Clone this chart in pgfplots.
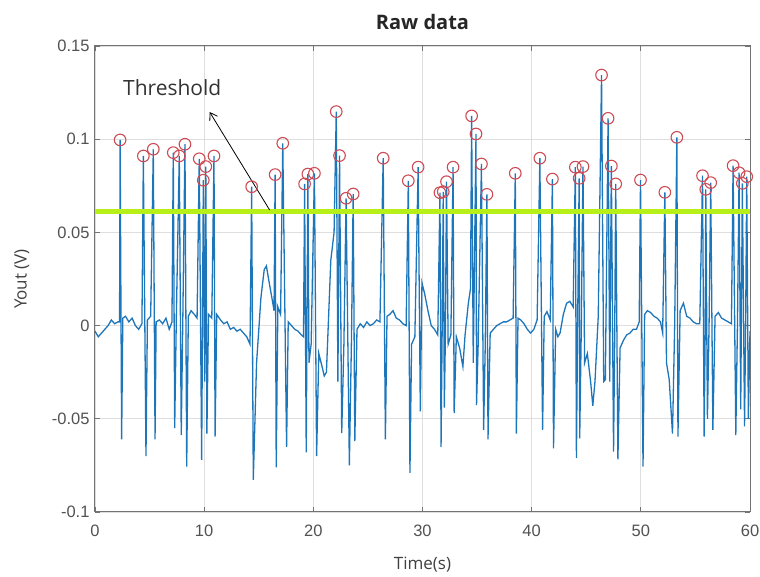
\documentclass[border=0pt]{standalone}
\usepackage{pgfplots}
\pgfplotsset{compat=1.18}
\usetikzlibrary{arrows.meta}
\usepackage{fontspec}
\setmainfont{Open Sans}
\newfontfamily\tickfont{Liberation Sans}
\definecolor{sig}{RGB}{30,118,186}
\definecolor{thr}{RGB}{182,240,24}
\definecolor{pk}{RGB}{205,75,85}
\definecolor{pkfill}{RGB}{250,228,228}
\definecolor{gridc}{RGB}{222,222,222}
\begin{document}
\begin{tikzpicture}
\path[use as bounding box] (-95pt,-65pt) rectangle (665pt,512pt);
\begin{axis}[
  at={(0,0)}, anchor=south west,
  scale only axis, width=655pt, height=466pt,
  xmin=0, xmax=60, ymin=-0.1, ymax=0.15,
  xtick={0,10,...,60},
  ytick={-0.1,-0.05,0,0.05,0.1,0.15},
  yticklabels={-0.1,-0.05,0,0.05,0.1,0.15},
  scaled y ticks=false,
  tick align=inside, major tick length=5pt,
  xtick pos=both, ytick pos=both,
  grid=major, major grid style={gridc, line width=0.8pt},
  axis line style={black!55, line width=1pt},
  tick style={black!55, line width=0.8pt},
  /pgf/number format/assume math mode=true,
  ticklabel style={font=\tickfont\fontsize{16.5}{16.5}\selectfont, text=black!68},
  xticklabel style={yshift=-9pt},
  yticklabel style={xshift=-2pt},
  title={Raw data},
  title style={font=\bfseries\fontsize{20}{20}\selectfont, text=black!85, at={(axis description cs:0.5,1)}, anchor=center, yshift=18pt},
  xlabel={Time(s)},
  xlabel style={font=\fontsize{17}{17}\selectfont, text=black!75, at={(axis description cs:0.5,0)}, anchor=center, yshift=-53pt},
  ylabel={Yout (V)},
  ylabel style={font=\fontsize{17}{17}\selectfont, text=black!75, at={(axis description cs:0,0.5)}, anchor=center, yshift=73pt},
  clip=true,
]
\addplot[sig, line width=1.3pt] coordinates {
(0,-0.003) (0.3,-0.006) (0.6,-0.004) (0.9,-0.002) (1.2,0.000) (1.5,0.003) (1.8,0.001) (2.1,0.002) (2.25,0.002)
(2.3,0.0996) (2.44,-0.061) (2.55,0.004) (2.8,0.005) (3.1,0.002) (3.4,0.004) (3.7,0.000) (4.0,-0.002) (4.3,0.001)
(4.43,0.091) (4.67,-0.070) (4.8,0.003) (5.1,0.005) (5.34,0.0946) (5.5,-0.061) (5.6,0.002) (5.9,0.003) (6.2,0.001)
(6.5,0.004) (6.8,-0.002) (7.05,0.002) (7.17,0.0928) (7.3,-0.055) (7.45,0.004) (7.72,0.091) (7.9,-0.0587) (8.05,0.006)
(8.24,0.0973) (8.4,-0.0757) (8.55,0.005) (8.8,0.008) (9.1,0.006) (9.35,0.004) (9.55,0.0895) (9.77,-0.072) (9.85,0.003)
(9.92,0.078) (10.05,-0.03) (10.15,0.0853) (10.25,-0.058) (10.4,0.006) (10.7,0.004) (10.9,0.091) (11.0,-0.0596)
(11.15,0.006) (11.5,0.003) (11.8,0.001) (12.1,0.002) (12.4,-0.002) (12.7,-0.001) (13.0,-0.003) (13.3,-0.002)
(13.6,-0.004) (13.9,-0.006) (14.2,-0.01) (14.35,0.0745) (14.5,-0.0828) (14.8,-0.02) (15.2,0.015) (15.5,0.030)
(15.7,0.032) (15.9,0.025) (16.2,0.015) (16.4,0.008) (16.5,0.081) (16.6,-0.076) (16.75,0.010) (17.0,0.006)
(17.2,0.0978) (17.55,-0.065) (17.7,0.002) (18.0,0.000) (18.3,-0.002) (18.6,-0.003) (18.9,-0.005) (19.1,-0.006)
(19.2,0.076) (19.35,-0.068) (19.5,0.0813) (19.6,-0.02) (19.8,-0.010) (20.1,0.0817) (20.3,-0.070) (20.5,-0.015)
(20.8,-0.022) (21.0,-0.027) (21.2,-0.025) (21.6,0.035) (21.9,0.05) (22.1,0.1148) (22.25,-0.03) (22.4,0.0912)
(22.6,-0.0577) (22.8,-0.01) (23.0,0.0683) (23.3,-0.075) (23.5,-0.005) (23.65,0.0706) (23.8,-0.062) (24.0,-0.002)
(24.3,0.001) (24.6,-0.001) (24.9,0.002) (25.2,0.000) (25.5,0.001) (25.8,0.003) (26.1,0.002) (26.4,0.0898)
(26.6,-0.061) (26.75,0.005) (27.0,0.006) (27.3,0.008) (27.6,0.004) (27.9,0.003) (28.2,0.001) (28.5,0.000)
(28.7,0.0777) (28.85,-0.079) (29.0,-0.010) (29.3,-0.006) (29.6,0.085) (29.8,-0.046) (29.95,0.023) (30.2,0.017)
(30.5,0.008) (30.8,0.000) (31.1,-0.002) (31.4,-0.005) (31.6,0.0713) (31.7,-0.065) (31.8,-0.003) (31.9,0.0718)
(32.0,-0.044) (32.1,-0.004) (32.2,0.0772) (32.35,-0.01) (32.6,-0.005) (32.8,0.085) (32.9,-0.047) (33.1,-0.006)
(33.4,-0.012) (33.7,-0.022) (33.9,-0.005) (34.2,0.012) (34.4,0.020) (34.5,0.1125) (34.65,-0.02) (34.9,0.1028)
(34.95,-0.0426) (35.1,-0.01) (35.4,0.0867) (35.6,-0.056) (35.75,-0.01) (35.9,0.0704) (36.0,-0.061) (36.2,-0.004)
(36.5,-0.002) (36.8,0.000) (37.1,0.001) (37.4,0.002) (37.7,0.002) (38.0,0.003) (38.3,0.004) (38.5,0.0817)
(38.6,-0.058) (38.75,0.004) (39.0,0.003) (39.3,0.001) (39.6,-0.002) (39.9,-0.004) (40.2,-0.002) (40.5,0.003)
(40.75,0.0898) (41.0,-0.056) (41.15,0.005) (41.4,0.0075) (41.7,0.003) (41.9,0.0786) (42.0,-0.0658) (42.2,-0.002)
(42.4,-0.006) (42.6,-0.004) (42.9,0.006) (43.2,0.012) (43.5,0.013) (43.8,0.010) (44.0,0.085) (44.1,-0.071)
(44.2,-0.005) (44.35,0.079) (44.4,-0.0605) (44.55,0.0) (44.7,0.0853) (44.85,-0.02) (45.1,-0.015) (45.4,-0.03)
(45.6,-0.043) (45.8,-0.03) (46.1,0.005) (46.4,0.1344) (46.6,-0.03) (46.75,-0.029) (47.0,0.1112) (47.15,-0.03)
(47.3,0.0856) (47.5,-0.0676) (47.6,-0.01) (47.7,0.076) (47.9,-0.0717) (48.1,-0.012) (48.4,-0.008) (48.7,-0.005)
(49.0,-0.004) (49.3,-0.002) (49.6,-0.002) (49.85,0.002) (49.97,0.0781) (50.2,-0.0757) (50.35,0.006) (50.6,0.008)
(50.9,0.007) (51.2,0.005) (51.5,0.004) (51.8,0.002) (52.0,-0.004) (52.2,0.0715) (52.35,-0.02) (52.6,-0.029)
(52.9,-0.058) (53.1,0.0) (53.3,0.101) (53.4,-0.0596) (53.6,0.008) (53.9,0.012) (54.2,0.005) (54.5,0.004)
(54.8,0.002) (55.1,0.001) (55.4,0.001) (55.65,0.0804) (55.8,-0.0596) (55.9,0.0) (55.95,0.0731) (56.1,-0.05)
(56.25,0.0) (56.4,0.0767) (56.6,-0.056) (56.8,0.005) (57.1,0.007) (57.4,0.004) (57.7,0.003) (58.0,0.002)
(58.3,0.001) (58.45,0.0858) (58.7,-0.0587) (58.85,0.0) (59.0,0.082) (59.15,-0.045) (59.3,0.0763) (59.5,-0.054)
(59.6,0.0) (59.7,0.0799) (59.85,-0.05) (60,-0.003)
};
\addplot[thr, line width=5pt] coordinates {(0,0.061) (60,0.061)};
\addplot[only marks, mark=o, mark size=5.8pt, mark options={draw=pk, fill=pkfill, fill opacity=0.5, line width=1.1pt}] coordinates {
(2.3,0.0996) (4.43,0.091) (5.34,0.0946) (7.17,0.0928) (7.72,0.091) (8.24,0.0973) (9.55,0.0895) (9.92,0.078)
(10.15,0.0853) (10.9,0.091) (14.35,0.0745) (16.5,0.081) (17.2,0.0978) (19.2,0.076) (19.5,0.0813) (20.1,0.0817)
(22.1,0.1148) (22.4,0.0912) (23.0,0.0683) (23.65,0.0706) (26.4,0.0898) (28.7,0.0777) (29.6,0.085)
(31.6,0.0713) (31.9,0.0718) (32.2,0.0772) (32.8,0.085) (34.5,0.1125) (34.9,0.1028) (35.4,0.0867) (35.9,0.0704)
(38.5,0.0817) (40.75,0.0898) (41.9,0.0786) (44.0,0.085) (44.35,0.079) (44.7,0.0853) (46.4,0.1344) (47.0,0.1112)
(47.3,0.0856) (47.7,0.076) (49.97,0.0781) (52.2,0.0715) (53.3,0.101) (55.65,0.0804) (55.95,0.0731) (56.4,0.0767)
(58.45,0.0858) (59.0,0.082) (59.3,0.0763) (59.7,0.0799)
};
\draw[black, line width=0.8pt, -{Straight Barb[length=7pt, width=9pt]}] (axis cs:16,0.062) -- (axis cs:10.5,0.1146);
\node[anchor=west, font=\fontsize{21}{21}\selectfont, text=black!80, inner sep=0pt] at (axis cs:2.56,0.1275) {Threshold};
\end{axis}
\end{tikzpicture}
\end{document}
